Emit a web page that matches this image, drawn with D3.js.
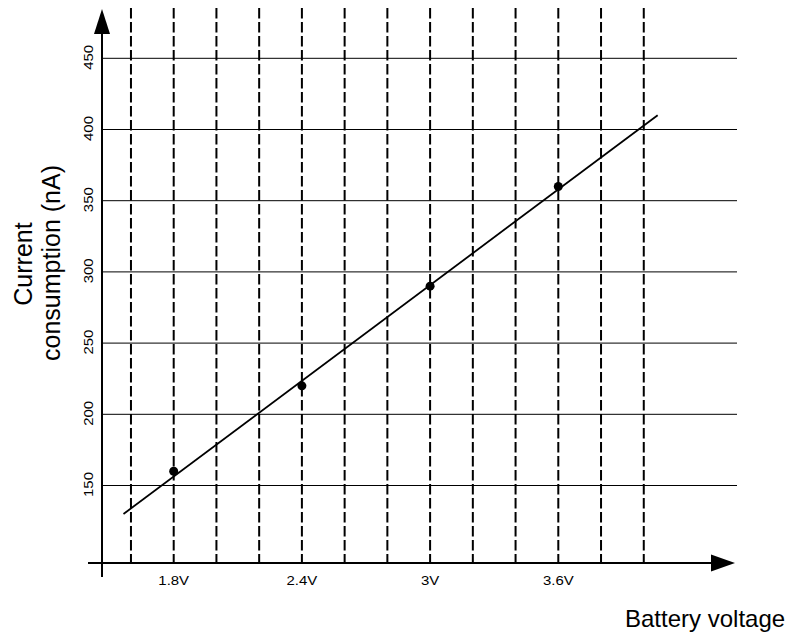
<!DOCTYPE html>
<html>
<head>
<meta charset="utf-8">
<script src="https://cdn.jsdelivr.net/npm/d3@7.9.0/dist/d3.min.js"></script>
<style>
  body { margin: 0; background: #fff; }
  svg { display: block; font-family: "Liberation Sans", Arial, sans-serif; }
</style>
</head>
<body>
<svg width="793" height="638"></svg>
<script>
// measured points
const voltages = [1.8, 2.4, 3.0, 3.6];
const currents = [160, 220, 290, 360];
// trend line ends
const fitVoltages = [1.565, 4.065];
const fitCurrents = [130, 410];
// grid
const gridVoltages = [1.6, 1.8, 2.0, 2.2, 2.4, 2.6, 2.8, 3.0, 3.2, 3.4, 3.6, 3.8, 4.0];
const yTicks = [150, 200, 250, 300, 350, 400, 450];
const xTicks = [1.8, 2.4, 3.0, 3.6];
const xTickLabels = ['1.8V', '2.4V', '3V', '3.6V'];

const svg = d3.select('svg');

const x = d3.scaleLinear().domain([1.8, 3.6]).range([173.7, 558.3]);
const y = d3.scaleLinear().domain([150, 450]).range([485.5, 58.3]);

const axisX = 102;   // y axis position
const axisY = 563;   // x axis position

// horizontal grid lines
svg.append('g').selectAll('line')
  .data(yTicks)
  .join('line')
  .attr('x1', axisX).attr('x2', 737)
  .attr('y1', d => y(d)).attr('y2', d => y(d))
  .attr('stroke', '#000').attr('stroke-width', 1);

// vertical dashed lines
svg.append('g').selectAll('line')
  .data(gridVoltages)
  .join('line')
  .attr('x1', d => x(d)).attr('x2', d => x(d))
  .attr('y1', 8).attr('y2', axisY)
  .attr('stroke', '#000').attr('stroke-width', 2)
  .attr('stroke-dasharray', '10.5,3.5');

// axes
svg.append('line')
  .attr('x1', axisX).attr('x2', axisX)
  .attr('y1', 30).attr('y2', 577)
  .attr('stroke', '#000').attr('stroke-width', 2);
svg.append('line')
  .attr('x1', 88).attr('x2', 715)
  .attr('y1', axisY).attr('y2', axisY)
  .attr('stroke', '#000').attr('stroke-width', 2);

// arrowheads
svg.append('path')
  .attr('d', `M${axisX},9 L${axisX - 8},34 L${axisX + 8},34 Z`)
  .attr('fill', '#000');
svg.append('path')
  .attr('d', `M735,${axisY} L711,${axisY - 8.5} L711,${axisY + 8.5} Z`)
  .attr('fill', '#000');

// y tick labels (rotated, slightly wide like the original)
svg.append('g').selectAll('text')
  .data(yTicks)
  .join('text')
  .attr('transform', d => `translate(92.5,${y(d) - 1}) rotate(-90) scale(1.15,1)`)
  .attr('text-anchor', 'middle')
  .attr('font-size', 13)
  .text(d => d);

// x tick labels
svg.append('g').selectAll('text')
  .data(xTicks)
  .join('text')
  .attr('transform', d => `translate(${x(d)},585) scale(1.15,1)`)
  .attr('text-anchor', 'middle')
  .attr('font-size', 13)
  .text((d, i) => xTickLabels[i]);

// trend line
const line = d3.line()
  .x(d => x(d[0]))
  .y(d => y(d[1]));
svg.append('path')
  .datum(d3.zip(fitVoltages, fitCurrents))
  .attr('d', line)
  .attr('fill', 'none')
  .attr('stroke', '#000')
  .attr('stroke-width', 1.8);

// points
svg.append('g').selectAll('circle')
  .data(d3.zip(voltages, currents))
  .join('circle')
  .attr('cx', d => x(d[0]))
  .attr('cy', d => y(d[1]))
  .attr('r', 4.5)
  .attr('fill', '#000');

// axis titles
svg.append('text')
  .attr('transform', 'translate(32,264) rotate(-90)')
  .attr('text-anchor', 'middle')
  .attr('font-size', 25)
  .text('Current');
svg.append('text')
  .attr('transform', 'translate(60,263) rotate(-90)')
  .attr('text-anchor', 'middle')
  .attr('font-size', 25)
  .text('consumption (nA)');

svg.append('text')
  .attr('x', 625)
  .attr('y', 627)
  .attr('font-size', 24)
  .text('Battery voltage');
</script>
</body>
</html>
